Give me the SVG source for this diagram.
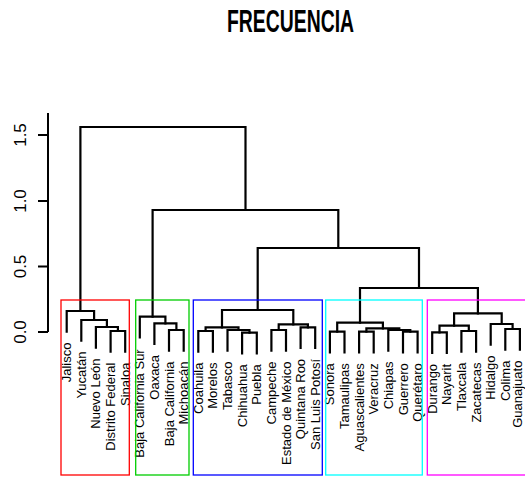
<svg xmlns="http://www.w3.org/2000/svg" width="525" height="479" viewBox="0 0 525 479">
  <style>
    .link { fill: none; stroke: #000; stroke-width: 2.2; stroke-linejoin: miter; stroke-linecap: square; }
    .axis { fill: none; stroke: #000; stroke-width: 2; }
    .tick { font-family: "Liberation Sans", Arial, sans-serif; font-size: 17px; fill: #000; text-anchor: middle; }
    .leaf text { font-family: "Liberation Sans", Arial, sans-serif; font-size: 13px; fill: #000; text-anchor: end; }
    .title { font-family: "Liberation Sans", Arial, sans-serif; font-size: 32px; font-weight: bold; fill: #000; text-anchor: middle; }
    .box { fill: none; stroke-width: 1.3; }
  </style>
  <rect width="525" height="479" fill="#fff"/>

  <text class="title" x="290.5" y="31.5" textLength="127" lengthAdjust="spacingAndGlyphs">FRECUENCIA</text>

  <!-- height axis -->
  <g id="axis">
    <path class="axis" d="M48 113 V332 M38 135 H48 M38 201 H48 M38 266.5 H48 M38 332 H48"/>
    <text class="tick" transform="translate(26 135) rotate(-90)">1.5</text>
    <text class="tick" transform="translate(26 201) rotate(-90)">1.0</text>
    <text class="tick" transform="translate(26 266.5) rotate(-90)">0.5</text>
    <text class="tick" transform="translate(26 332) rotate(-90)">0.0</text>
  </g>

  <!-- merge links -->
  <g id="connectors" class="link">
    <path d="M110.6 351.6 V331 H125.2 V351.6"/>
    <path d="M95.9 347.6 V327 H117.9 V331"/>
    <path d="M81.3 340.6 V320 H106.9 V327"/>
    <path d="M66.7 331.6 V311 H94.1 V320"/>

    <path d="M169.0 350.6 V330 H183.7 V350.6"/>
    <path d="M154.4 343.9 V323.3 H176.4 V330"/>
    <path d="M139.8 337.3 V316.7 H165.4 V323.3"/>

    <path d="M198.3 351.6 V331 H212.9 V351.6"/>
    <path d="M242.1 353.3 V332.7 H256.8 V353.3"/>
    <path d="M227.5 350.6 V330 H249.5 V332.7"/>
    <path d="M205.6 331 V327.3 H238.5 V330"/>
    <path d="M271.4 350.6 V330 H286.0 V350.6"/>
    <path d="M300.6 347.9 V327.3 H315.2 V347.9"/>
    <path d="M278.7 330 V324.3 H307.9 V327.3"/>
    <path d="M222.0 327.3 V310 H293.3 V324.3"/>

    <path d="M329.9 352.3 V331.7 H344.5 V352.3"/>
    <path d="M359.1 352.3 V331.7 H373.7 V352.3"/>
    <path d="M403.0 352.3 V331.7 H417.6 V352.3"/>
    <path d="M388.3 350.6 V330 H410.3 V331.7"/>
    <path d="M366.4 331.7 V328.3 H399.3 V330"/>
    <path d="M337.2 331.7 V322.7 H382.9 V328.3"/>

    <path d="M432.2 352.9 V332.3 H446.8 V352.9"/>
    <path d="M461.4 351.6 V331 H476.1 V351.6"/>
    <path d="M439.5 332.3 V325.7 H468.8 V331"/>
    <path d="M505.3 349.6 V329 H519.9 V349.6"/>
    <path d="M490.7 344.6 V324 H512.6 V329"/>
    <path d="M454.1 325.7 V313.3 H501.7 V324"/>

    <path d="M360.0 322.7 V288 H477.9 V313.3"/>
    <path d="M257.7 310 V248 H419.0 V288"/>
    <path d="M152.6 316.7 V210 H338.3 V248"/>
    <path d="M80.4 311 V127 H245.5 V210"/>
  </g>

  <!-- leaf labels -->
  <g class="leaf">
    <g id="jalisco"><text transform="translate(71.2 342.6) rotate(-90)">Jalisco</text></g>
    <g id="yucatan"><text transform="translate(85.8 351.6) rotate(-90)">Yucatán</text></g>
    <g id="nuevo-leon"><text transform="translate(100.4 358.6) rotate(-90)">Nuevo León</text></g>
    <g id="distrito-federal"><text transform="translate(115.1 362.6) rotate(-90)">Distrito Federal</text></g>
    <g id="sinaloa"><text transform="translate(129.7 362.6) rotate(-90)">Sinaloa</text></g>
    <g id="baja-california-sur"><text transform="translate(144.3 349.3) rotate(-90)">Baja California Sur</text></g>
    <g id="oaxaca"><text transform="translate(158.9 354.9) rotate(-90)">Oaxaca</text></g>
    <g id="baja-california"><text transform="translate(173.5 361.6) rotate(-90)">Baja California</text></g>
    <g id="michoacan"><text transform="translate(188.2 361.6) rotate(-90)">Michoacán</text></g>
    <g id="coahuila"><text transform="translate(202.8 362.6) rotate(-90)">Coahuila</text></g>
    <g id="morelos"><text transform="translate(217.4 362.6) rotate(-90)">Morelos</text></g>
    <g id="tabasco"><text transform="translate(232.0 361.6) rotate(-90)">Tabasco</text></g>
    <g id="chihuahua"><text transform="translate(246.6 364.3) rotate(-90)">Chihuahua</text></g>
    <g id="puebla"><text transform="translate(261.3 364.3) rotate(-90)">Puebla</text></g>
    <g id="campeche"><text transform="translate(275.9 361.6) rotate(-90)">Campeche</text></g>
    <g id="estado-de-mexico"><text transform="translate(290.5 361.6) rotate(-90)">Estado de México</text></g>
    <g id="quintana-roo"><text transform="translate(305.1 358.9) rotate(-90)">Quintana Roo</text></g>
    <g id="san-luis-potosi"><text transform="translate(319.7 358.9) rotate(-90)">San Luis Potosí</text></g>
    <g id="sonora"><text transform="translate(334.4 363.3) rotate(-90)">Sonora</text></g>
    <g id="tamaulipas"><text transform="translate(349.0 363.3) rotate(-90)">Tamaulipas</text></g>
    <g id="aguascalientes"><text transform="translate(363.6 363.3) rotate(-90)">Aguascalientes</text></g>
    <g id="veracruz"><text transform="translate(378.2 363.3) rotate(-90)">Veracruz</text></g>
    <g id="chiapas"><text transform="translate(392.8 361.6) rotate(-90)">Chiapas</text></g>
    <g id="guerrero"><text transform="translate(407.5 363.3) rotate(-90)">Guerrero</text></g>
    <g id="queretaro"><text transform="translate(422.1 363.3) rotate(-90)">Querétaro</text></g>
    <g id="durango"><text transform="translate(436.7 363.9) rotate(-90)">Durango</text></g>
    <g id="nayarit"><text transform="translate(451.3 363.9) rotate(-90)">Nayarit</text></g>
    <g id="tlaxcala"><text transform="translate(465.9 362.6) rotate(-90)">Tlaxcala</text></g>
    <g id="zacatecas"><text transform="translate(480.6 362.6) rotate(-90)">Zacatecas</text></g>
    <g id="hidalgo"><text transform="translate(495.2 355.6) rotate(-90)">Hidalgo</text></g>
    <g id="colima"><text transform="translate(509.8 360.6) rotate(-90)">Colima</text></g>
    <g id="guanajuato"><text transform="translate(522 360.6) rotate(-90)">Guanajuato</text></g>
  </g>

  <!-- cluster boxes -->
  <g id="clusters">
    <rect class="box" x="61" y="300" width="68.3" height="175" stroke="#ff0000"/>
    <rect class="box" x="135.7" y="300" width="53.3" height="175" stroke="#00cd00"/>
    <rect class="box" x="193.3" y="300" width="129" height="175" stroke="#0000ff"/>
    <rect class="box" x="325.7" y="300" width="96.6" height="175" stroke="#00ffff"/>
    <rect class="box" x="427.3" y="300" width="110" height="175" stroke="#ff00ff"/>
  </g>
</svg>
